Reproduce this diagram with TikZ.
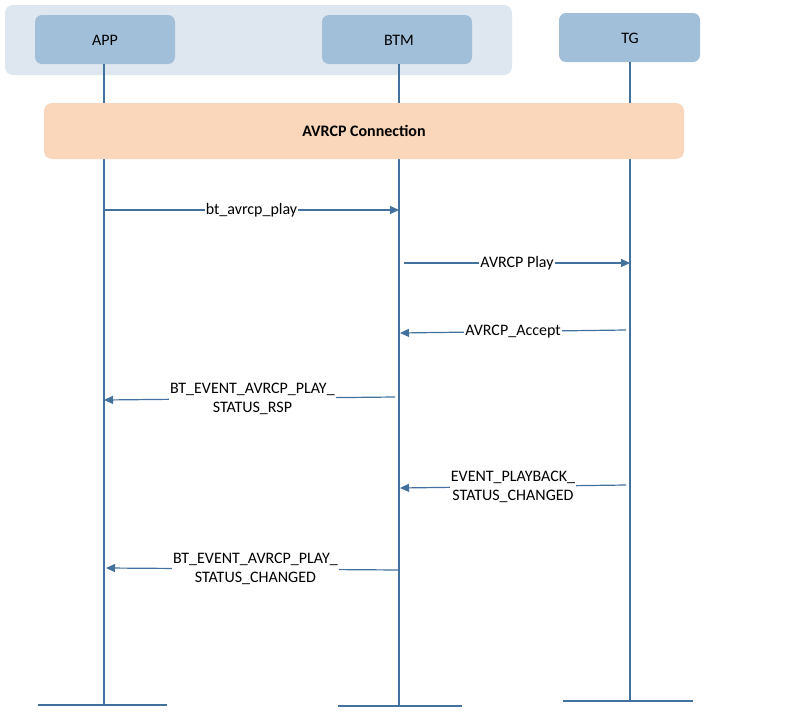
\documentclass[tikz,border=0pt]{standalone}
\usepackage{fontspec}
\setmainfont{Carlito}
\usetikzlibrary{arrows.meta}
\definecolor{lineblue}{HTML}{41719C}
\definecolor{boxblue}{HTML}{A2BFDA}
\definecolor{grpblue}{HTML}{DEE7F0}
\definecolor{peach}{HTML}{FAD7BA}
\begin{document}
\begin{tikzpicture}[x=1pt,y=-1pt,
  every node/.style={font=\fontsize{16}{19}\selectfont},
  actor/.style={fill=boxblue,rounded corners=7pt,draw=none},
  life/.style={draw=lineblue,line width=1.2pt},
  msg/.style={draw=lineblue,line width=1.2pt,-{Triangle[length=9pt,width=8pt]}},
  lbl/.style={fill=white,inner sep=1pt,align=center}]
\useasboundingbox (0,0) rectangle (804,720);
\fill[grpblue,rounded corners=8pt] (5,5) rectangle (512,75);
\fill[actor] (35,15) rectangle (175,64);
\fill[actor] (322,15) rectangle (472,64);
\fill[actor] (559,13) rectangle (700,62);
\node (app) at (105,40) {APP};
\node (btm) at (399,40) {BTM};
\node (tg) at (630,38) {TG};
\coordinate (appB) at (104,705);
\coordinate (btmB) at (399,706);
\coordinate (tgB) at (630,701);
\draw[life] (104,64) -- (appB);
\draw[life] (399,64) -- (btmB);
\draw[life] (630,62) -- (tgB);
\draw[life] (38,705) -- (167,705);
\draw[life] (338,706) -- (462,706);
\draw[life] (563,701) -- (693,701);
\fill[peach,rounded corners=8pt] (44,103) rectangle (684,159);
\node[font=\fontsize{16}{19}\selectfont\bfseries] (conn) at (364,131) {AVRCP Connection};
\coordinate (m1a) at (104,210); \coordinate (m1b) at (399,210);
\draw[msg] (m1a) -- node[lbl]{bt\_avrcp\_play} (m1b);
\coordinate (m2a) at (404,263); \coordinate (m2b) at (630,263);
\draw[msg] (m2a) -- node[lbl]{AVRCP Play} (m2b);
\coordinate (m3a) at (626,330); \coordinate (m3b) at (400,333);
\draw[msg] (m3a) -- node[lbl]{AVRCP\_Accept} (m3b);
\coordinate (m4a) at (395,397); \coordinate (m4b) at (104,400);
\draw[msg] (m4a) -- node[lbl,pos=0.49,yshift=0pt]{BT\_EVENT\_AVRCP\_PLAY\_\\STATUS\_RSP} (m4b);
\coordinate (m5a) at (626,485); \coordinate (m5b) at (400,488);
\draw[msg] (m5a) -- node[lbl]{EVENT\_PLAYBACK\_\\STATUS\_CHANGED} (m5b);
\coordinate (m6a) at (399,570); \coordinate (m6b) at (106,568);
\draw[msg] (m6a) -- node[lbl,pos=0.49]{BT\_EVENT\_AVRCP\_PLAY\_\\STATUS\_CHANGED} (m6b);
\end{tikzpicture}
\end{document}
